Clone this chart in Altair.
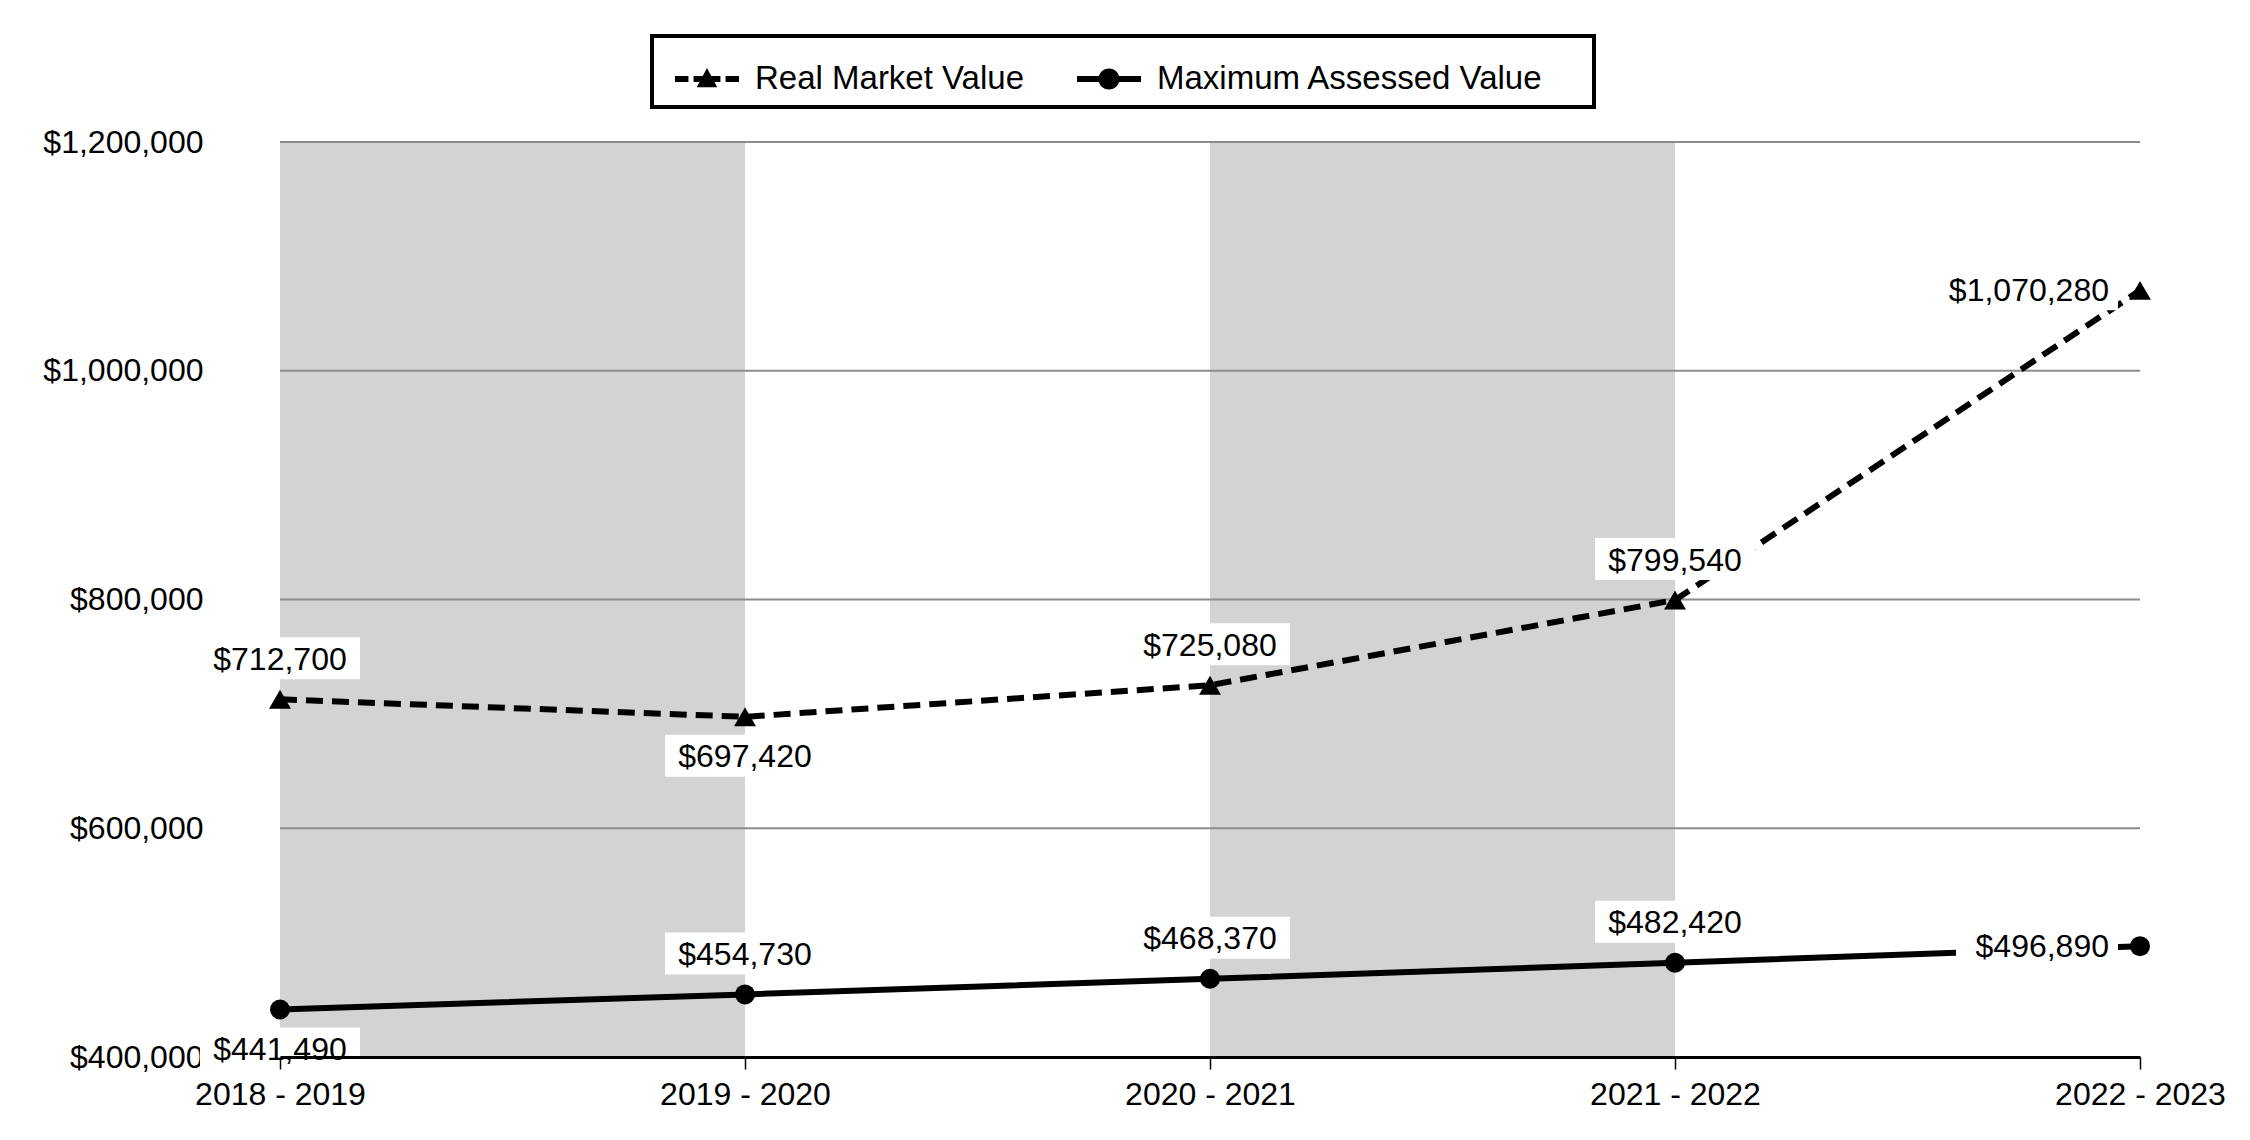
import altair as alt
import pandas as pd

# ---------------- data ----------------
years = ["2018 - 2019", "2019 - 2020", "2020 - 2021", "2021 - 2022", "2022 - 2023"]
real_market_value = [712700, 697420, 725080, 799540, 1070280]
max_assessed_value = [441490, 454730, 468370, 482420, 496890]
series_names = ["Real Market Value", "Maximum Assessed Value"]
y_ticks = [400000, 600000, 800000, 1000000, 1200000]
band_starts = ["2018 - 2019", "2020 - 2021"]
band_ends = ["2019 - 2020", "2021 - 2022"]

# label placement (styling only)
rmv_sides = ["top", "bottom", "top", "top", "left"]
mav_sides = ["bottom", "top", "top", "top", "left"]

rows = []
for i, yr in enumerate(years):
    rows.append({"year": yr, "series": series_names[0], "value": real_market_value[i], "side": rmv_sides[i]})
for i, yr in enumerate(years):
    rows.append({"year": yr, "series": series_names[1], "value": max_assessed_value[i], "side": mav_sides[i]})
df = pd.DataFrame(rows)
bands = pd.DataFrame({"start": band_starts, "end": band_ends})
grid = pd.DataFrame({"tick": y_ticks})

FONT = "Liberation Sans"

x_scale = alt.Scale(domain=years, type="point", padding=0)
y_scale = alt.Scale(domain=[400000, 1200000], nice=False, zero=False)

x_axis = alt.Axis(title=None, labelAngle=0, labelFontSize=32, labelColor="black", labelFont=FONT,
                  labelPadding=10, tickSize=12, tickColor="black", tickWidth=1.5,
                  domainColor="black", domainWidth=3, grid=False, zindex=1)
y_axis = alt.Axis(title=None, values=y_ticks, format="$,.0f", labelFontSize=32, labelColor="black",
                  labelFont=FONT, labelPadding=77, ticks=False, domain=False, grid=False)

X = alt.X("year:O", scale=x_scale, axis=x_axis, sort=years)
Y = alt.Y("value:Q", scale=y_scale, axis=y_axis)

band_layer = alt.Chart(bands).mark_rect(color="#d3d3d3").encode(
    x=alt.X("start:O", scale=x_scale, axis=x_axis, sort=years),
    x2="end:O",
    y=alt.Y(datum=1200000, type="quantitative", scale=y_scale, axis=y_axis),
    y2=alt.datum(400000),
)

grid_layer = alt.Chart(grid).mark_rule(color="#8c8c8c", strokeWidth=2).encode(
    y=alt.Y("tick:Q", scale=y_scale, axis=y_axis)
)

base = alt.Chart(df)
rmv = base.transform_filter(alt.datum.series == series_names[0])
mav = base.transform_filter(alt.datum.series == series_names[1])

rmv_line = rmv.mark_line(color="black", strokeWidth=6, strokeDash=[17, 9]).encode(x=X, y=Y)
mav_line = mav.mark_line(color="black", strokeWidth=6).encode(x=X, y=Y)
rmv_pts = rmv.mark_point(shape="triangle-up", filled=True, size=480, opacity=1, color="black").encode(x=X, y=Y)
mav_pts = mav.mark_point(shape="circle", filled=True, size=400, opacity=1, color="black").encode(x=X, y=Y)

box_props = {
    "top": dict(xOffset=-80, x2Offset=80, yOffset=-62, y2Offset=-20),
    "bottom": dict(xOffset=-80, x2Offset=80, yOffset=18, y2Offset=60),
    "left": dict(xOffset=-184, x2Offset=-22, yOffset=-22, y2Offset=20),
}
text_props = {
    "top": dict(align="center", dx=0, dy=-29.5),
    "bottom": dict(align="center", dx=0, dy=50.5),
    "left": dict(align="right", dx=-31, dy=10.5),
}

box_layers = []
text_layers = []
for side in ["top", "bottom", "left"]:
    sub = base.transform_filter(alt.datum.side == side)
    box_layers.append(
        sub.mark_rect(color="white", **box_props[side]).encode(x=X, x2="year:O", y=Y, y2="value:Q")
    )
    text_layers.append(
        sub.mark_text(fontSize=32, color="black", font=FONT, baseline="alphabetic", **text_props[side]).encode(
            x=X, y=Y, text=alt.Text("value:Q", format="$,.0f")
        )
    )

rmv_path = ("M-1,-0.09H-0.58V0.09H-1Z "
            "M-0.42,-0.09H0.42V0.09H-0.42Z "
            "M0,-0.34L0.32,0.26L-0.32,0.26Z "
            "M0.58,-0.09H1V0.09H0.58Z")
mav_path = ("M-1,-0.09H1V0.09H-1Z "
            "M-0.33,0A0.33,0.33 0 1,1 0.33,0A0.33,0.33 0 1,1 -0.33,0Z")

legend_layer = base.mark_point(filled=True, opacity=0, color="black").encode(
    x=X, y=Y,
    shape=alt.Shape("series:N", scale=alt.Scale(domain=series_names, range=[rmv_path, mav_path]),
                    legend=alt.Legend(title="xx", titleOrient="right", titleColor="white",
                                      titleFontSize=32, titlePadding=4, titleFont=FONT,
                                      orient="none", legendX=372, legendY=-106,
                                      direction="horizontal", symbolSize=4096, symbolOpacity=1,
                                      symbolFillColor="black", symbolStrokeColor="black",
                                      symbolStrokeWidth=0, symbolOffset=12,
                                      labelFontSize=33, labelColor="black",
                                      labelFont=FONT, labelLimit=900, labelOffset=16,
                                      columnPadding=40, padding=11, strokeColor="black")),
)

chart = alt.layer(
    band_layer, grid_layer, rmv_line, mav_line, rmv_pts, mav_pts,
    *box_layers, *text_layers, legend_layer
).properties(
    width=1860, height=915,
    padding={"left": 34, "top": 26, "right": 5, "bottom": 5},
    background="white",
).configure(
    font=FONT,
    view=alt.ViewConfig(stroke=None),
    legend=alt.LegendConfig(strokeWidth=4),
)

chart.save("out.html", embed_options={"renderer": "svg", "actions": False})
